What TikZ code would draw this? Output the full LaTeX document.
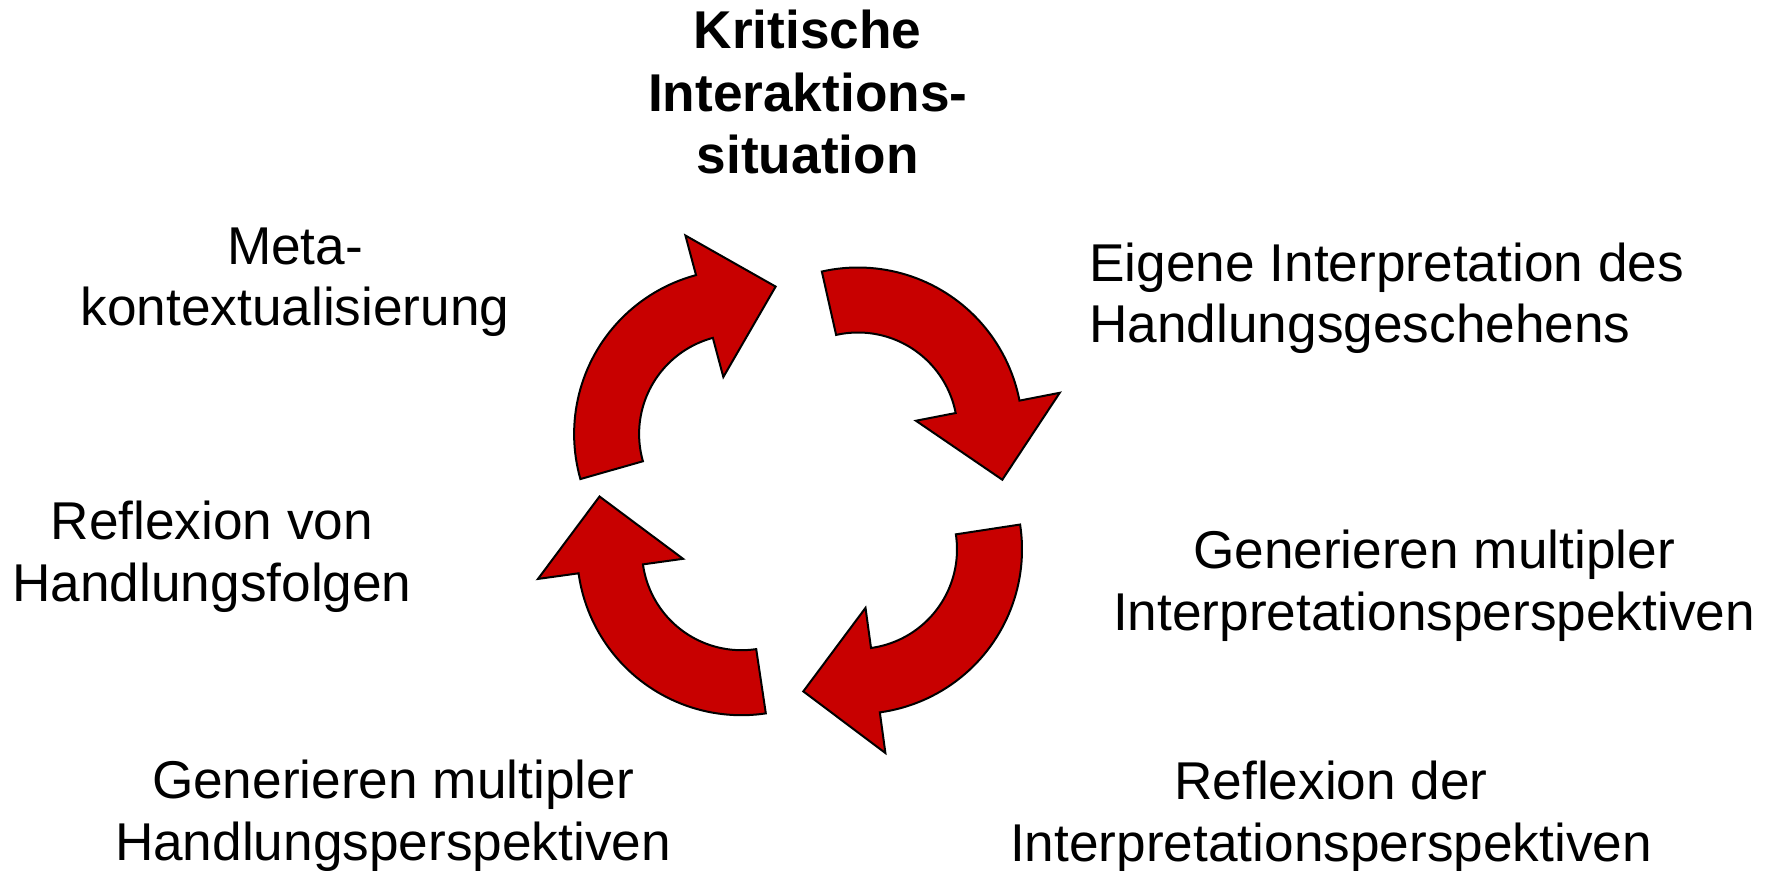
\documentclass[tikz,border=0pt]{standalone}
\usepackage{fontspec}
\setmainfont{Liberation Sans}
\usepackage{tikz}
\definecolor{cyclered}{RGB}{200,0,0}
\tikzset{
    label text/.style={font=\fontsize{26.6}{30.8}\selectfont, align=center, inner sep=0pt, anchor=base},
    cycle arrow/.style={fill=cyclered, draw=black, line width=1pt, line join=miter}
}

\begin{document}
\begin{tikzpicture}[x=0.5pt,y=0.5pt]
    \useasboundingbox (0,0) rectangle (1775,-871);
    % centre x / centre y / start / head base / tip
    \foreach \cx/\cy/\sa/\ha/\ta in {738.6/-434/195.9/105/75.9, 858/-432/102.7/11/-18.3,
        857.5/-549.4/8.7/-82.2/-110.9, 741.5/-550.7/278.5/187.9/159.1}
    {
        \draw[cycle arrow, shift={(\cx,\cy)}] (\sa:164.5) arc[start angle=\sa, end angle=\ha, radius=164.5]
            -- (\ha:205.5) -- (\ta:152) -- (\ha:59) -- (\ha:99.5)
            arc[start angle=\ha, end angle=\sa, radius=99.5] -- cycle;
    }
    % labels, placed at the baseline of their last line
    \node[label text, font=\fontsize{26.6}{31.2}\selectfont\bfseries] (situation) at (807.7,-173.5) {Kritische\\Interaktions-\\situation};
    \node[label text, align=left, anchor=base west] (eigene) at (1089,-343) {Eigene Interpretation des\\Handlungsgeschehens};
    \node[label text] (interp) at (1434,-630) {Generieren multipler\\Interpretationsperspektiven};
    \node[label text] (reflexder) at (1331,-861) {Reflexion der\\Interpretationsperspektiven};
    \node[label text] (handlung) at (393,-860) {Generieren multipler\\Handlungsperspektiven};
    \node[label text] (reflexvon) at (212,-601) {Reflexion von\\Handlungsfolgen};
    \node[label text] (meta) at (295,-326) {Meta-\\kontextualisierung};
\end{tikzpicture}
\end{document}
